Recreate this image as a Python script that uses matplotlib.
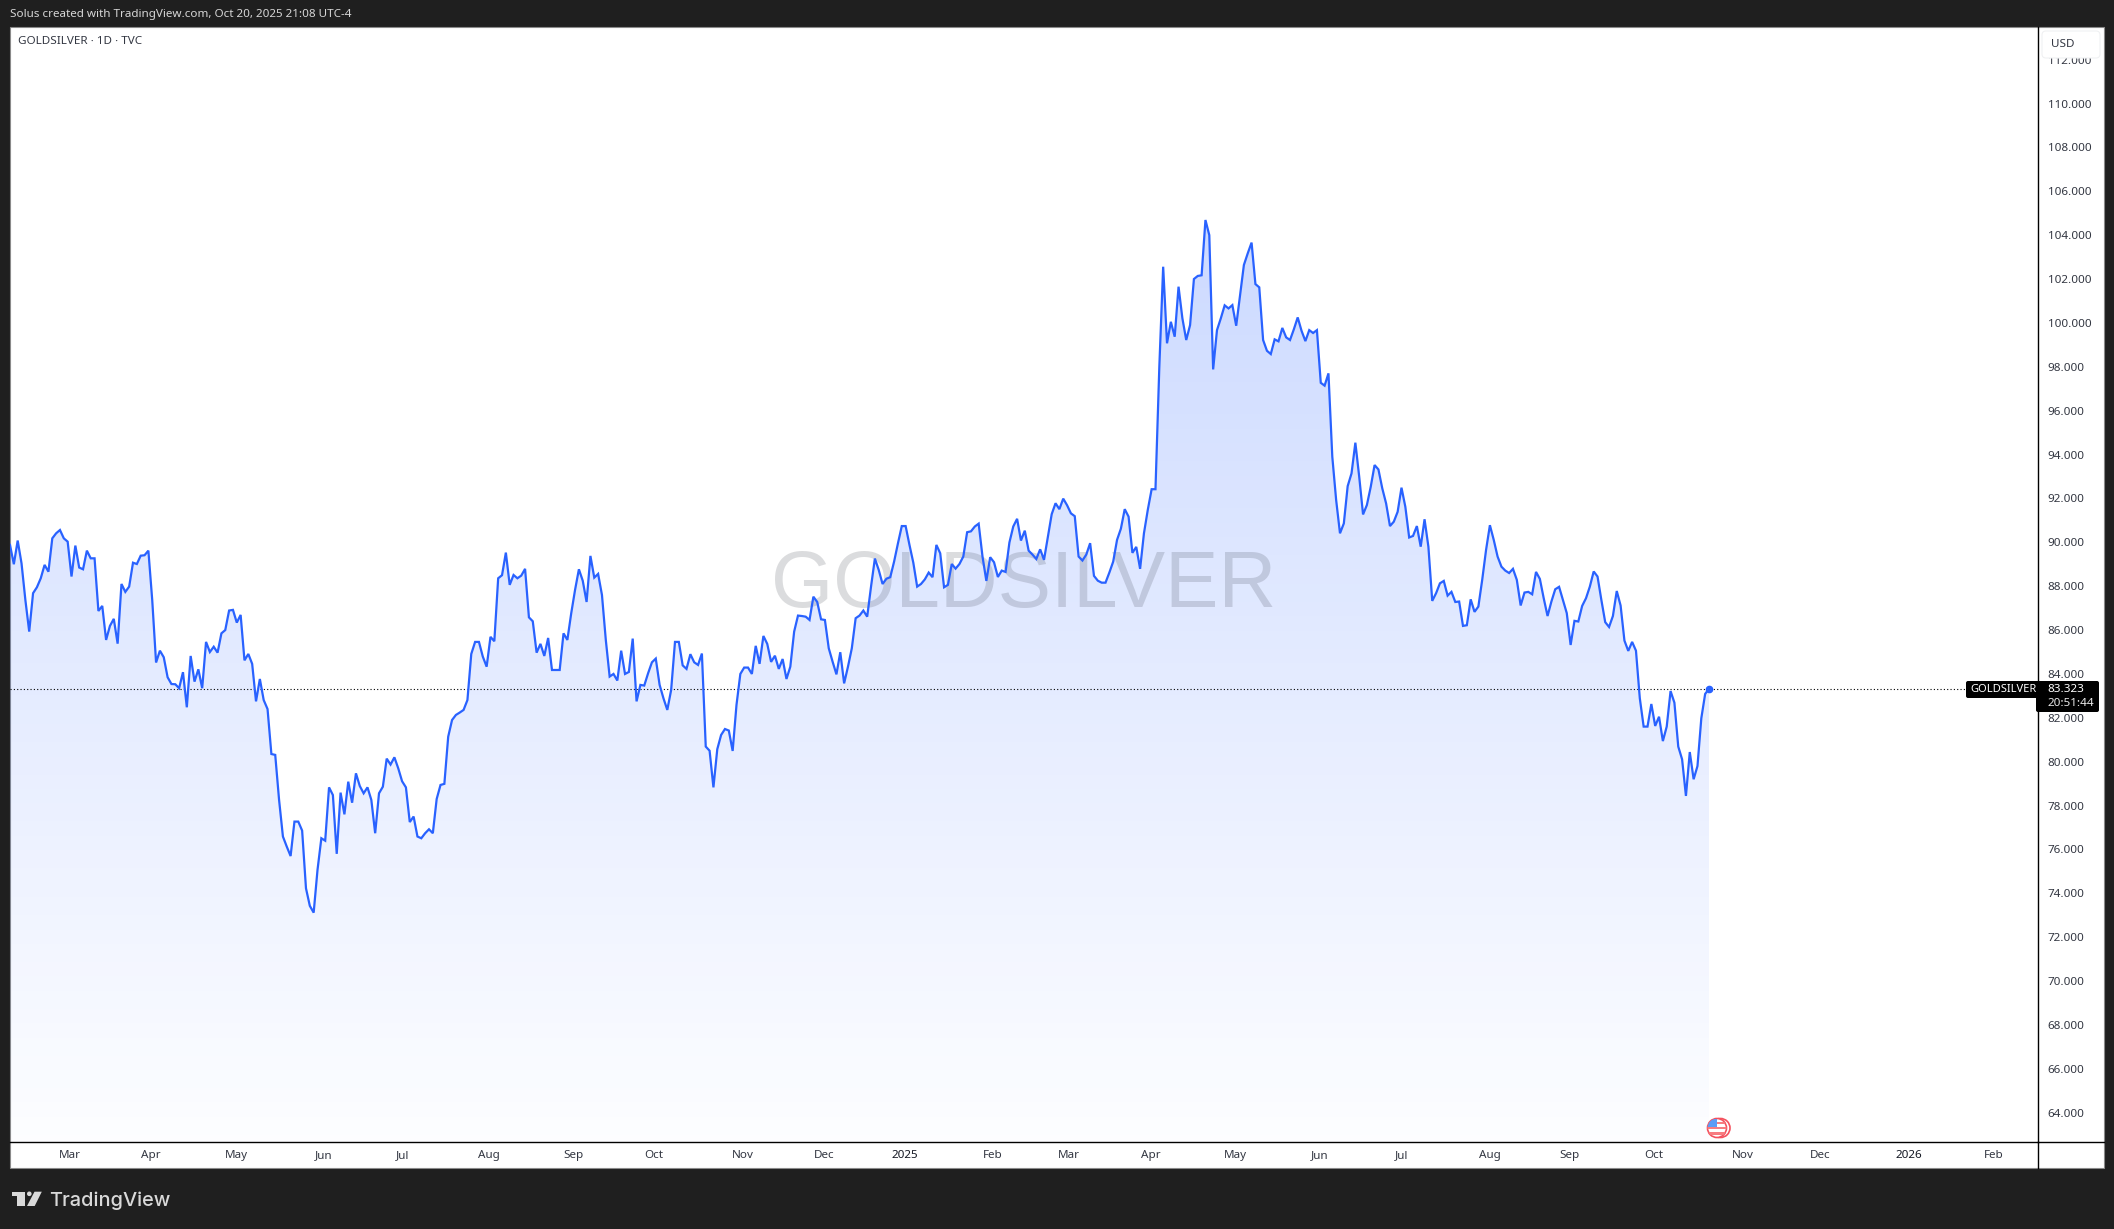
# plot.py - GOLDSILVER daily area chart, TradingView look

import numpy as np
import matplotlib
# Use a non-interactive backend
matplotlib.use('Agg')
import matplotlib.pyplot as plt
from matplotlib.patches import Rectangle, Circle, Polygon, FancyBboxPatch

# Daily closes
closes = [
    89.88, 89.00, 90.08, 89.04, 87.37, 85.93, 87.68, 87.95, 88.36,
    88.97, 88.66, 90.18, 90.41, 90.56, 90.18, 90.03, 88.44, 89.85, 88.85,
    88.77, 89.62, 89.27, 89.27, 86.87, 87.10, 85.55, 86.19, 86.51, 85.38,
    88.10, 87.74, 87.98, 89.07, 89.01, 89.39, 89.41, 89.62, 87.37, 84.52,
    85.06, 84.76, 83.85, 83.54, 83.53, 83.35, 84.08, 82.48, 84.82, 83.65,
    84.21, 83.35, 85.46, 85.00, 85.24, 84.97, 85.85, 86.00, 86.89, 86.92,
    86.34, 86.69, 84.62, 84.91, 84.46, 82.75, 83.77, 82.81, 82.40, 80.35,
    80.31, 78.26, 76.59, 76.13, 75.70, 77.27, 77.27, 76.86, 74.23, 73.43,
    73.12, 75.07, 76.51, 76.40, 78.83, 78.48, 75.80, 78.59, 77.60, 79.09,
    78.13, 79.47, 78.89, 78.56, 78.83, 78.26, 76.74, 78.56, 78.86, 80.14,
    79.87, 80.20, 79.70, 79.11, 78.83, 77.25, 77.50, 76.59, 76.51, 76.74,
    76.92, 76.74, 78.30, 78.94, 78.99, 81.14, 81.90, 82.13, 82.24, 82.36,
    82.81, 84.91, 85.46, 85.46, 84.79, 84.33, 85.69, 85.49, 88.36, 88.50,
    89.53, 88.06, 88.51, 88.36, 88.48, 88.79, 86.58, 86.40, 84.97, 85.37,
    84.82, 85.64, 84.18, 84.18, 84.18, 85.85, 85.55, 86.76, 87.83, 88.77,
    88.25, 87.28, 89.38, 88.39, 88.56, 87.60, 85.55, 83.88, 84.00, 83.70,
    85.06, 84.00, 84.09, 85.61, 82.75, 83.50, 83.47, 84.03, 84.53, 84.70,
    83.50, 82.89, 82.36, 83.27, 85.46, 85.46, 84.39, 84.23, 84.90, 84.53,
    84.41, 84.93, 80.69, 80.50, 78.83, 80.57, 81.22, 81.49, 81.42, 80.49,
    82.59, 84.00, 84.29, 84.29, 84.00, 85.28, 84.46, 85.73, 85.37, 84.55,
    84.83, 84.23, 84.68, 83.77, 84.33, 85.93, 86.66, 86.64, 86.61, 86.46,
    87.52, 87.28, 86.49, 86.46, 85.17, 84.56, 83.98, 84.99, 83.57, 84.33,
    85.17, 86.54, 86.66, 86.89, 86.61, 87.98, 89.26, 88.74, 88.10, 88.34,
    88.41, 89.12, 89.95, 90.74, 90.74, 89.88, 89.07, 87.98, 88.10, 88.31,
    88.62, 88.41, 89.88, 89.50, 87.95, 88.06, 89.01, 88.80, 89.01, 89.35,
    90.46, 90.50, 90.72, 90.85, 89.35, 88.24, 89.32, 89.09, 88.42, 88.71,
    88.65, 89.99, 90.72, 91.07, 90.08, 90.53, 89.62, 89.44, 89.24, 89.68,
    89.20, 90.23, 91.28, 91.78, 91.51, 91.99, 91.69, 91.32, 91.19, 89.35,
    89.17, 89.44, 89.96, 88.47, 88.25, 88.16, 88.16, 88.62, 89.12, 90.11,
    90.62, 91.51, 91.17, 89.52, 89.79, 88.79, 90.41, 91.48, 92.42, 92.42,
    98.00, 102.56, 99.07, 100.05, 99.37, 101.65, 100.21, 99.22, 99.90, 102.00,
    102.14, 102.17, 104.69, 104.00, 97.88, 99.67, 100.21, 100.80, 100.66, 100.81,
    99.87, 101.27, 102.64, 103.17, 103.66, 101.77, 101.62, 99.22, 98.73, 98.58,
    99.25, 99.16, 99.77, 99.34, 99.22, 99.71, 100.25, 99.64, 99.17, 99.67,
    99.54, 99.67, 97.27, 97.14, 97.70, 93.90, 91.93, 90.41, 90.86, 92.56,
    93.14, 94.54, 92.99, 91.27, 91.70, 92.53, 93.52, 93.32, 92.46, 91.77,
    90.74, 90.94, 91.39, 92.49, 91.62, 90.22, 90.29, 90.74, 89.80, 91.05,
    89.80, 87.33, 87.68, 88.13, 88.24, 87.57, 87.74, 87.28, 87.30, 86.19,
    86.22, 87.40, 86.83, 87.07, 88.29, 89.65, 90.78, 90.11, 89.35, 88.89,
    88.71, 88.60, 88.79, 88.29, 87.12, 87.71, 87.74, 87.63, 88.65, 88.33,
    87.45, 86.64, 87.30, 87.86, 87.97, 87.37, 86.77, 85.32, 86.42, 86.39,
    87.10, 87.45, 87.98, 88.67, 88.44, 87.37, 86.36, 86.14, 86.64, 87.78,
    87.12, 85.52, 85.05, 85.46, 85.06, 82.89, 81.60, 81.60, 82.63, 81.63,
    82.05, 80.94, 81.60, 83.22, 82.69, 80.69, 80.11, 78.44, 80.44, 79.20,
    79.80, 81.98, 83.09, 83.323,
]

# Time axis labels, placed by bar number
month_bars = [15.6, 36.7, 58.8, 81.7, 102, 124.6, 146.7, 167.5, 190.7, 211.8, 232.8, 255.7,
              275.5, 296.8, 318.7, 340.8, 362.1, 385, 405.8, 427.7, 450.8, 470.9, 494, 516.1]
month_names = ['Mar', 'Apr', 'May', 'Jun', 'Jul', 'Aug', 'Sep', 'Oct', 'Nov', 'Dec', '2025', 'Feb',
               'Mar', 'Apr', 'May', 'Jun', 'Jul', 'Aug', 'Sep', 'Oct', 'Nov', 'Dec', '2026', 'Feb']
price_ticks = list(range(64, 114, 2))

W, H = 2114, 1229
DARK = '#1f1f1f'
BLUE = '#2962ff'
TEXT = '#333742'
LABEL_SIZE = 8.4
plt.rcParams['font.family'] = ['Noto Sans', 'DejaVu Sans']


def box(px_left, px_top, px_right, px_bottom):
    # pixel box (from top left) to figure fractions
    return [px_left / W, 1 - px_bottom / H, (px_right - px_left) / W, (px_bottom - px_top) / H]


fig = plt.figure(figsize=(W / 100, H / 100), dpi=100, facecolor=DARK)

# Full size layers in pixel coordinates for the frame and the badges
back = fig.add_axes([0, 0, 1, 1], zorder=-1)
over = fig.add_axes([0, 0, 1, 1], zorder=5)
for layer in (back, over):
    layer.set_xlim(0, W)
    layer.set_ylim(H, 0)
    layer.axis('off')
back.add_patch(Rectangle((10, 27), 2094, 1141, facecolor='white', edgecolor='#8a8a8a', lw=0.8))

# Main pane
ax = fig.add_axes(box(10, 27, 2038, 1142), facecolor='none')
n = len(closes)
bars = np.arange(n)
bar_px = (1709 - 10) / (n - 1)
y_top = 110 + (103.5 - 27) / 21.94
y_bottom = 110 - (1142 - 103.5) / 21.94

# Area fill: blue fading to almost nothing at the bottom of the pane
area = ax.fill_between(bars, closes, y_bottom, facecolor='none', edgecolor='none')
alpha = np.linspace(0.24, 0.01, 256).reshape(-1, 1)
shade = np.zeros((256, 1, 4))
shade[..., 0] = 41 / 255
shade[..., 1] = 98 / 255
shade[..., 2] = 1.0
shade[..., 3] = alpha
image = ax.imshow(shade, extent=(0, n - 1, y_bottom, max(closes)), aspect='auto', zorder=1)
image.set_clip_path(area.get_paths()[0], transform=ax.transData)
ax.set_xlim(0, (2038 - 10) / bar_px)
ax.set_ylim(y_bottom, y_top)

# Watermark sits between fill and line
ax.text(0.5, 1 - (587 - 27) / 1115, 'GOLDSILVER', transform=ax.transAxes, ha='center', va='center',
        fontsize=57.6, family='Liberation Sans', color='#131722', alpha=0.15, zorder=2)

ax.axhline(closes[-1], color='black', lw=0.8, ls=(0, (1.0, 2.0)), zorder=3)
ax.plot(bars, closes, color=BLUE, lw=1.6, solid_joinstyle='miter', zorder=4)
ax.plot(bars[-1], closes[-1], 'o', color=BLUE, ms=4.5, zorder=5)

# Axes
ax.spines['top'].set_visible(False)
ax.spines['left'].set_visible(False)
ax.spines['right'].set_linewidth(1.0)
ax.spines['bottom'].set_linewidth(1.0)
ax.yaxis.tick_right()
ax.set_yticks(price_ticks)
ax.set_yticklabels([f'{p:.3f}' for p in price_ticks])
ax.tick_params(axis='y', length=0, pad=7, labelsize=LABEL_SIZE, labelcolor=TEXT)
ax.set_xticks(month_bars)
ax.set_xticklabels(month_names)
ax.tick_params(axis='x', length=0, pad=6, labelsize=LABEL_SIZE, labelcolor=TEXT)
for label in ax.get_xticklabels():
    if label.get_text().startswith('20'):
        label.set_fontweight('bold')
        label.set_color('#131722')

# Axis lines carry on into the corner
over.plot([2038, 2038], [1142, 1168], color='black', lw=1.0)
over.plot([2038, 2104], [1142, 1142], color='black', lw=1.0)

# Header and legend text
over.text(10, 15, 'Solus created with TradingView.com, Oct 20, 2025 21:08 UTC-4',
          color='#d6d6d6', fontsize=LABEL_SIZE, va='center')
over.text(18, 41.5, 'GOLDSILVER · 1D · TVC', color=TEXT, fontsize=LABEL_SIZE, va='center')

# Currency badge hides most of the top price label
over.add_patch(FancyBboxPatch((2045, 34), 52, 21, boxstyle='round,pad=3,rounding_size=4',
                              facecolor='white', edgecolor='#f0f1f3', lw=0.8))
over.text(2051, 44.5, 'USD', color=TEXT, fontsize=LABEL_SIZE, va='center')

# Last price badge
over.add_patch(FancyBboxPatch((1968, 683), 72, 13, boxstyle='round,pad=2,rounding_size=2',
                              facecolor='black', edgecolor='none'))
over.add_patch(FancyBboxPatch((2038, 683), 59, 27, boxstyle='round,pad=2,rounding_size=2',
                              facecolor='black', edgecolor='none'))
over.text(1970, 690, 'GOLDSILVER', color='white', fontsize=8.0, va='center', fontweight='medium')
over.text(2047, 690, f'{closes[-1]:.3f}', color='white', fontsize=LABEL_SIZE, va='center')
over.text(2047, 703.5, '20:51:44', color='#e8e8e8', fontsize=LABEL_SIZE, va='center')

# Economic event flag
over.add_patch(Circle((1720.5, 1128), 9.5, facecolor='white', edgecolor='#f4515e', lw=1.2))
disc = Circle((1717, 1128), 9.5, facecolor='white', edgecolor='#f4515e', lw=1.2)
over.add_patch(disc)
for top in (1121.5, 1126.5, 1132):
    stripe = Rectangle((1707, top), 20, 2.6, facecolor='#f77c80', edgecolor='none')
    over.add_patch(stripe)
    stripe.set_clip_path(disc)
canton = Rectangle((1707, 1119), 10, 8, facecolor='#5b9cf6', edgecolor='none')
over.add_patch(canton)
canton.set_clip_path(disc)

# TradingView logo in the footer
LOGO = '#d9d9d9'
over.add_patch(Polygon([(12, 1191.7), (25.3, 1191.7), (25.3, 1206), (17.4, 1206), (17.4, 1196.3), (12, 1196.3)],
                       facecolor=LOGO, edgecolor='none'))
over.add_patch(Circle((29.3, 1193.8), 2.3, facecolor=LOGO, edgecolor='none'))
over.add_patch(Polygon([(34.5, 1191.7), (41.8, 1191.7), (34.7, 1206), (27, 1206)], facecolor=LOGO, edgecolor='none'))
over.text(49, 1206, 'TradingView', color=LOGO, fontsize=14.4, family='Inter', fontweight='medium', va='baseline')

fig.savefig('out.png', dpi=100, facecolor=fig.get_facecolor())
